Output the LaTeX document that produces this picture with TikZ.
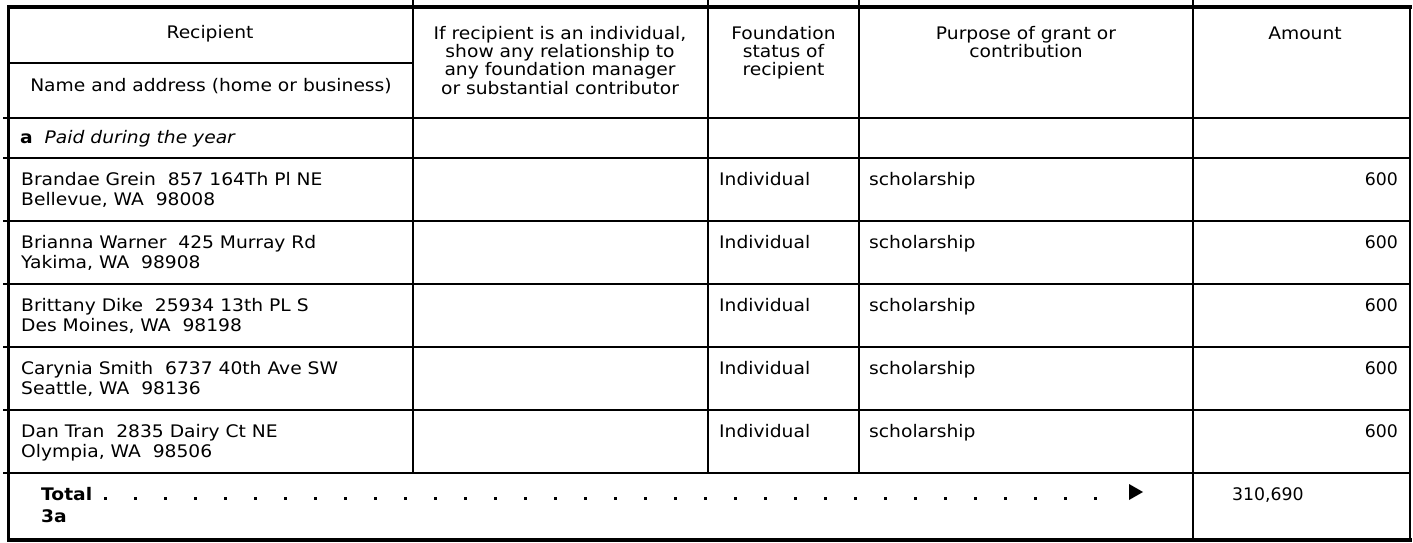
\documentclass[tikz,border=0pt]{standalone}
\usepackage{fontspec}
\setmainfont{DejaVu Sans}[FakeStretch=1.08]
\newfontfamily\numfont{DejaVu Sans}
\begin{document}
\begin{tikzpicture}[x=1pt,y=-1pt,
  grid/.style={line width=1.7pt,line cap=rect},
  outer/.style={line width=3.4pt,line cap=rect},
  txt/.style={inner sep=0pt,anchor=base west,font=\fontsize{17.3}{20}\selectfont},
  ctr/.style={inner sep=0pt,anchor=base,font=\fontsize{17.3}{20}\selectfont},
  rgt/.style={inner sep=0pt,anchor=base east,font=\fontsize{17.3}{20}\numfont},
  ldot/.style={fill=black,minimum width=3pt,minimum height=3pt,inner sep=0pt}]
\useasboundingbox (0,0) rectangle (1413,543);
% ---- grid ----
\foreach \y in {118,158,221,284,347,410,473} \draw[grid] (4,\y) -- (1410,\y);
\draw[grid] (8,63) -- (413,63);
\foreach \x in {413,708,859} \draw[grid] (\x,0) -- (\x,473);
\draw[grid] (1193,0) -- (1193,540);
\draw[outer] (8.5,7) -- (1410,7);
\draw[outer] (8.5,7) -- (8.5,540);
\draw[outer] (8.5,540) -- (1410,540);
\draw[line width=2pt] (1410,7) -- (1410,541);
% ---- header ----
\node[ctr] (hrec) at (210,39) {Recipient};
\node[ctr] (hname) at (211,91) {Name and address (home or business)};
\node[ctr] (hrel1) at (560,39.5) {If recipient is an individual,};
\node[ctr] (hrel2) at (560,57.7) {show any relationship to};
\node[ctr] (hrel3) at (560,76) {any foundation manager};
\node[ctr] (hrel4) at (560,94) {or substantial contributor};
\node[ctr] (hfs1) at (783.5,39.5) {Foundation};
\node[ctr] (hfs2) at (783.5,57.7) {status of};
\node[ctr] (hfs3) at (783.5,76) {recipient};
\node[ctr] (hpur1) at (1026,39.5) {Purpose of grant or};
\node[ctr] (hpur2) at (1026,57.7) {contribution};
\node[ctr] (hamt) at (1305,39.5) {Amount};
\node[txt] (rowa) at (20,143.5) {\textbf{a}\ \ \textit{Paid during the year}};
% ---- data rows ----
\foreach \t/\na/\ad [count=\i] in {
  158/{Brandae Grein\ \ 857 164Th Pl NE}/{Bellevue, WA\ \ 98008},
  221/{Brianna Warner\ \ 425 Murray Rd}/{Yakima, WA\ \ 98908},
  284/{Brittany Dike\ \ 25934 13th PL S}/{Des Moines, WA\ \ 98198},
  347/{Carynia Smith\ \ 6737 40th Ave SW}/{Seattle, WA\ \ 98136},
  410/{Dan Tran\ \ 2835 Dairy Ct NE}/{Olympia, WA\ \ 98506}} {
  \node[txt] (name\i) at (21,\t+27) {\na};
  \node[txt] (addr\i) at (21,\t+47) {\ad};
  \node[txt] (stat\i) at (719,\t+27) {Individual};
  \node[txt] (purp\i) at (869,\t+27) {scholarship};
  \node[rgt] (amt\i) at (1398,\t+27) {600};
}
% ---- total ----
\node[txt] (tot) at (41,500) {\textbf{Total}};
\node[txt] (tot3a) at (41,522) {\textbf{3a}};
\foreach \k in {0,...,33} \node[ldot] (d\k) at (105+30*\k,498) {};
\fill (1129,484) -- (1129,500) -- (1143,492) -- cycle;
\node[txt,font=\fontsize{17.3}{20}\numfont] (totamt) at (1232,500) {310,690};
\end{tikzpicture}
\end{document}
